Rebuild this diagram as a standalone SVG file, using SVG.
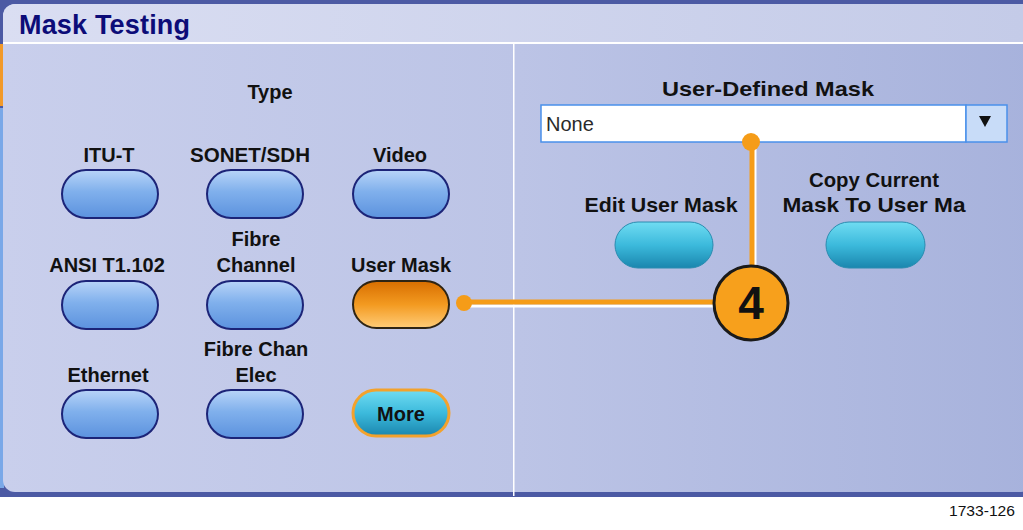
<svg xmlns="http://www.w3.org/2000/svg" width="1023" height="530" viewBox="0 0 1023 530">
<defs>
<linearGradient id="panelBg" x1="0" y1="0" x2="1" y2="0">
<stop offset="0" stop-color="#c9cfec"/><stop offset="0.5" stop-color="#bcc4e6"/><stop offset="1" stop-color="#a7b2dc"/>
</linearGradient>
<linearGradient id="titleBg" x1="0" y1="0" x2="1" y2="0">
<stop offset="0" stop-color="#dadef2"/><stop offset="1" stop-color="#c4cbe8"/>
</linearGradient>
<linearGradient id="blueBtn" x1="0" y1="0" x2="0" y2="1">
<stop offset="0" stop-color="#b8d4f8"/><stop offset="0.45" stop-color="#80b0ec"/><stop offset="1" stop-color="#5c92de"/>
</linearGradient>
<linearGradient id="tealBtn" x1="0" y1="0" x2="0" y2="1">
<stop offset="0" stop-color="#70dcf2"/><stop offset="0.5" stop-color="#3cbadc"/><stop offset="1" stop-color="#1a86ae"/>
</linearGradient>
<linearGradient id="orangeBtn" x1="0" y1="0" x2="0" y2="1">
<stop offset="0" stop-color="#d86e00"/><stop offset="0.5" stop-color="#f39a20"/><stop offset="1" stop-color="#ffcc78"/>
</linearGradient>
</defs>
<style>
.lbl{font-family:"Liberation Sans",Arial,sans-serif;font-weight:bold;font-size:20px;fill:#111;text-anchor:middle}
.lbr{font-family:"Liberation Sans",Arial,sans-serif;font-weight:bold;font-size:21px;fill:#111;text-anchor:middle}
.blue{fill:url(#blueBtn);stroke:#1c2478;stroke-width:2}
.teal{fill:url(#tealBtn);stroke:#2a8cb0;stroke-width:1}
.orng{fill:url(#orangeBtn);stroke:#2e2414;stroke-width:2}
.conn{stroke:#f59c18;stroke-width:5;fill:none}
.shad{stroke:#ffffff;stroke-width:3;fill:none}
</style>
<rect x="0" y="0" width="1023" height="530" fill="#ffffff"/>
<rect x="0" y="0" width="1023" height="497" fill="#4c5aa4"/>
<rect x="0" y="44" width="4" height="62" fill="#f29a2a"/>
<rect x="0" y="108" width="4" height="380" fill="#7aa8e8"/>
<rect x="3" y="4" width="1030" height="488" rx="12" fill="url(#panelBg)"/>
<path d="M3,42 V16 a12,12 0 0 1 12,-12 H1023 V42 Z" fill="url(#titleBg)"/>
<rect x="3" y="42" width="1020" height="2" fill="#ffffff"/>
<rect x="513" y="44" width="1.5" height="452" fill="#ffffff"/>
<text x="19" y="34" font-family="Liberation Sans,Arial,sans-serif" font-weight="bold" font-size="27" fill="#0c0c78" textLength="171" lengthAdjust="spacing">Mask Testing</text>
<text x="270" y="99" class="lbl">Type</text>
<g id="itu"><text x="109" y="162" class="lbl">ITU-T</text><rect x="62" y="170" width="96" height="48" rx="24" class="blue"/></g>
<g id="sonet"><text x="250" y="162" class="lbl" textLength="120" lengthAdjust="spacingAndGlyphs">SONET/SDH</text><rect x="207" y="170" width="96" height="48" rx="24" class="blue"/></g>
<g id="video"><text x="400" y="162" class="lbl">Video</text><rect x="353" y="170" width="96" height="48" rx="24" class="blue"/></g>
<g id="ansi"><text x="107" y="272" class="lbl">ANSI T1.102</text><rect x="62" y="281" width="96" height="48" rx="24" class="blue"/></g>
<g id="fibre"><text x="256" y="246" class="lbl">Fibre</text><text x="256" y="272" class="lbl">Channel</text><rect x="207" y="281" width="96" height="48" rx="24" class="blue"/></g>
<g id="usermask"><text x="401" y="272" class="lbl">User Mask</text><rect x="353" y="281" width="96" height="47" rx="23.5" class="orng"/></g>
<g id="ethernet"><text x="108" y="382" class="lbl">Ethernet</text><rect x="62" y="390" width="96" height="48" rx="24" class="blue"/></g>
<g id="fibreelec"><text x="256" y="356" class="lbl">Fibre Chan</text><text x="256" y="382" class="lbl">Elec</text><rect x="207" y="390" width="96" height="48" rx="24" class="blue"/></g>
<g id="more"><rect x="353" y="390" width="96" height="46" rx="23" fill="url(#tealBtn)" stroke="#f3a22c" stroke-width="3"/><text x="401" y="421" class="lbl" fill="#101838">More</text></g>
<g id="userdefined">
<text x="768" y="96" class="lbr" textLength="212" lengthAdjust="spacingAndGlyphs">User-Defined Mask</text>
<rect x="541" y="105" width="425" height="37" fill="#ffffff" stroke="#4a90ea" stroke-width="1.5"/>
<rect x="966" y="105" width="41" height="37" fill="#c8dcf8" stroke="#4a90ea" stroke-width="1.5"/>
<path d="M979,116 H991 L985,127 Z" fill="#111"/>
<text x="546" y="131" font-family="Liberation Sans,Arial,sans-serif" font-size="20" fill="#2a2a2a">None</text>
</g>
<g id="edit"><text x="661" y="212" class="lbr" textLength="153" lengthAdjust="spacingAndGlyphs">Edit User Mask</text><rect x="615" y="222" width="98" height="46" rx="23" class="teal"/></g>
<g id="copy"><text x="874" y="187" class="lbr" textLength="130" lengthAdjust="spacingAndGlyphs">Copy Current</text><text x="874" y="212" class="lbr" textLength="183" lengthAdjust="spacingAndGlyphs">Mask To User Ma</text><rect x="826" y="222" width="99" height="46" rx="23" class="teal"/></g>
<g id="connectors">
<path d="M468,306 H716" class="shad"/>
<path d="M755,148 V268" class="shad"/>
<path d="M463,302 H716" class="conn"/>
<path d="M752,142 V268" class="conn"/>
<circle cx="464" cy="303" r="8" fill="#f59c18"/>
<circle cx="751" cy="142" r="9" fill="#f59c18"/>
</g>
<g id="callout4">
<circle cx="751" cy="303" r="37" fill="#f7a01c" stroke="#1a1a1a" stroke-width="3"/>
<text x="751" y="319" font-family="Liberation Sans,Arial,sans-serif" font-weight="bold" font-size="46" fill="#111" text-anchor="middle">4</text>
</g>
<text x="1015" y="516" font-family="Liberation Sans,Arial,sans-serif" font-size="15" fill="#111" text-anchor="end" textLength="66" lengthAdjust="spacingAndGlyphs">1733-126</text>
</svg>
